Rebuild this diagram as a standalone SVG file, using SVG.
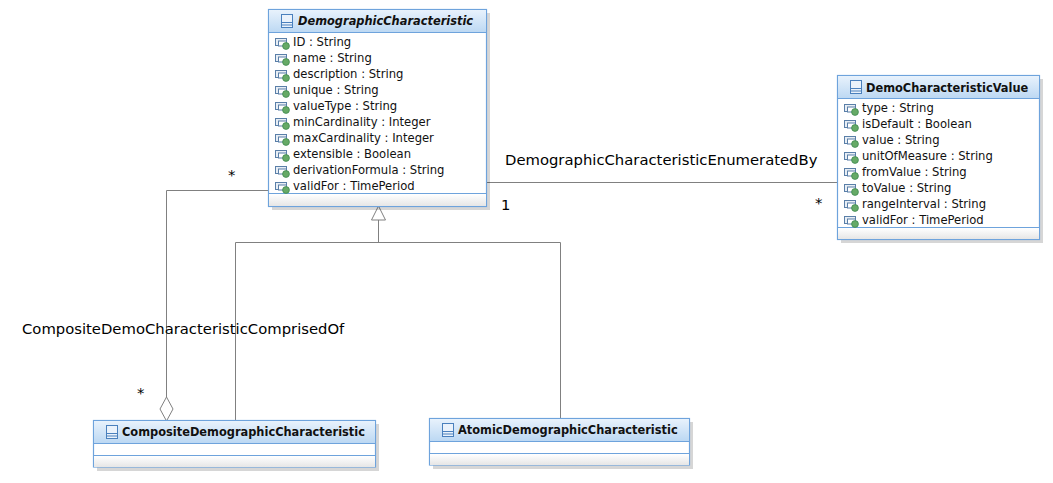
<svg xmlns="http://www.w3.org/2000/svg" width="1053" height="483" viewBox="0 0 1053 483">
<style>
text{font-family:"DejaVu Sans",sans-serif;font-size:11.6px;fill:#111}
.t{font-weight:bold;font-size:11.4px}
.i{font-style:italic}
.l{font-size:14.8px;fill:#000}
.box{fill:#fff;stroke:#6ea3dc;stroke-width:1.2}
.sh{fill:#000;opacity:.16}
.sep{stroke:#6ea3dc;stroke-width:1;fill:none}
.c{stroke:#808080;stroke-width:1;fill:none}
</style>
<defs>
<linearGradient id="hd" x1="0" y1="0" x2="0" y2="1"><stop offset="0" stop-color="#e8f2fc"/><stop offset="1" stop-color="#bcd8f3"/></linearGradient>
<linearGradient id="ft" x1="0" y1="0" x2="0" y2="1"><stop offset="0" stop-color="#fff"/><stop offset="1" stop-color="#e6e6e6"/></linearGradient>
<g id="cls"><rect x="0.5" y="0.5" width="11" height="13" fill="#eaf2fb" stroke="#4a80bd"/><path d="M0.5 8.5H11.5M0.5 11H11.5" stroke="#4a80bd" fill="none"/></g>
<g id="att"><rect x="0.5" y="0.5" width="11" height="7" fill="#e8eef5" stroke="#5a7fa8"/><rect x="3.500" y="3" width="8" height="5" fill="#fff" stroke="#5a7fa8"/><circle cx="11" cy="8" r="3.4" fill="#66aa66" stroke="#3f8a4f" stroke-width=".8"/></g>
</defs>
<g id="connectors">
<path class="c" d="M268 190.500H166.500V397"/>
<path class="c" fill="#fff" d="M166.500 397L173 409L166.500 421L160 409Z"/>
<path class="c" d="M486 182.500H837"/>
<path class="c" d="M378.500 220V242.500M235.500 420V242.500H560.500V418"/>
<path class="c" d="M378.500 206L371.500 220H385.500Z"/>
<text class="l" x="228" y="180">*</text>
<text class="l" x="505" y="165">DemographicCharacteristicEnumeratedBy</text>
<text class="l" x="501" y="210">1</text>
<text class="l" x="815" y="208">*</text>
<text class="l" x="22" y="334">CompositeDemoCharacteristicComprisedOf</text>
<text class="l" x="137" y="398">*</text>
</g>
<g id="DemographicCharacteristic">
<rect class="sh" x="272" y="13" width="218" height="197"/>
<rect class="box" x="268.500" y="9.500" width="218" height="197"/>
<rect x="269" y="10" width="217" height="22.500" fill="url(#hd)"/>
<rect x="269" y="194" width="217" height="12" fill="url(#ft)"/>
<path class="sep" d="M268.500 32.500H486.500M268.500 193.500H486.500"/>
<use href="#cls" x="281" y="14"/>
<text class="t i" x="298" y="25">DemographicCharacteristic</text>
<use href="#att" x="275" y="38"/><text x="293" y="46">ID : String</text>
<use href="#att" x="275" y="54"/><text x="293" y="62">name : String</text>
<use href="#att" x="275" y="70"/><text x="293" y="78">description : String</text>
<use href="#att" x="275" y="86"/><text x="293" y="94">unique : String</text>
<use href="#att" x="275" y="102"/><text x="293" y="110">valueType : String</text>
<use href="#att" x="275" y="118"/><text x="293" y="126">minCardinality : Integer</text>
<use href="#att" x="275" y="134"/><text x="293" y="142">maxCardinality : Integer</text>
<use href="#att" x="275" y="150"/><text x="293" y="158">extensible : Boolean</text>
<use href="#att" x="275" y="166"/><text x="293" y="174">derivationFormula : String</text>
<use href="#att" x="275" y="182"/><text x="293" y="190">validFor : TimePeriod</text>
</g>
<g id="DemoCharacteristicValue">
<rect class="sh" x="841" y="79" width="202" height="164"/>
<rect class="box" x="837.500" y="75.500" width="202" height="164"/>
<rect x="838" y="76" width="201" height="22.500" fill="url(#hd)"/>
<rect x="838" y="228" width="201" height="11" fill="url(#ft)"/>
<path class="sep" d="M837.500 98.500H1039.500M837.500 227.500H1039.500"/>
<use href="#cls" x="850" y="80"/>
<text class="t" x="866" y="92">DemoCharacteristicValue</text>
<use href="#att" x="844" y="104"/><text x="862" y="112">type : String</text>
<use href="#att" x="844" y="120"/><text x="862" y="128">isDefault : Boolean</text>
<use href="#att" x="844" y="136"/><text x="862" y="144">value : String</text>
<use href="#att" x="844" y="152"/><text x="862" y="160">unitOfMeasure : String</text>
<use href="#att" x="844" y="168"/><text x="862" y="176">fromValue : String</text>
<use href="#att" x="844" y="184"/><text x="862" y="192">toValue : String</text>
<use href="#att" x="844" y="200"/><text x="862" y="208">rangeInterval : String</text>
<use href="#att" x="844" y="216"/><text x="862" y="224">validFor : TimePeriod</text>
</g>
<g id="CompositeDemographicCharacteristic">
<rect class="sh" x="97" y="424" width="282" height="47"/>
<rect class="box" x="93.500" y="420.500" width="282" height="46.500"/>
<rect x="94" y="421" width="281" height="22" fill="url(#hd)"/>
<rect x="94" y="456" width="281" height="11" fill="url(#ft)"/>
<path class="sep" d="M93.500 443.500H375.500M93.500 455.500H375.500"/>
<use href="#cls" x="106" y="425"/>
<text class="t" x="122" y="436">CompositeDemographicCharacteristic</text>
</g>
<g id="AtomicDemographicCharacteristic">
<rect class="sh" x="433" y="422" width="260" height="47"/>
<rect class="box" x="429.500" y="418.500" width="260" height="46.500"/>
<rect x="430" y="419" width="259" height="22" fill="url(#hd)"/>
<rect x="430" y="454" width="259" height="11" fill="url(#ft)"/>
<path class="sep" d="M429.500 441.500H689.500M429.500 453.500H689.500"/>
<use href="#cls" x="442" y="423"/>
<text class="t" x="458" y="434">AtomicDemographicCharacteristic</text>
</g>
</svg>
